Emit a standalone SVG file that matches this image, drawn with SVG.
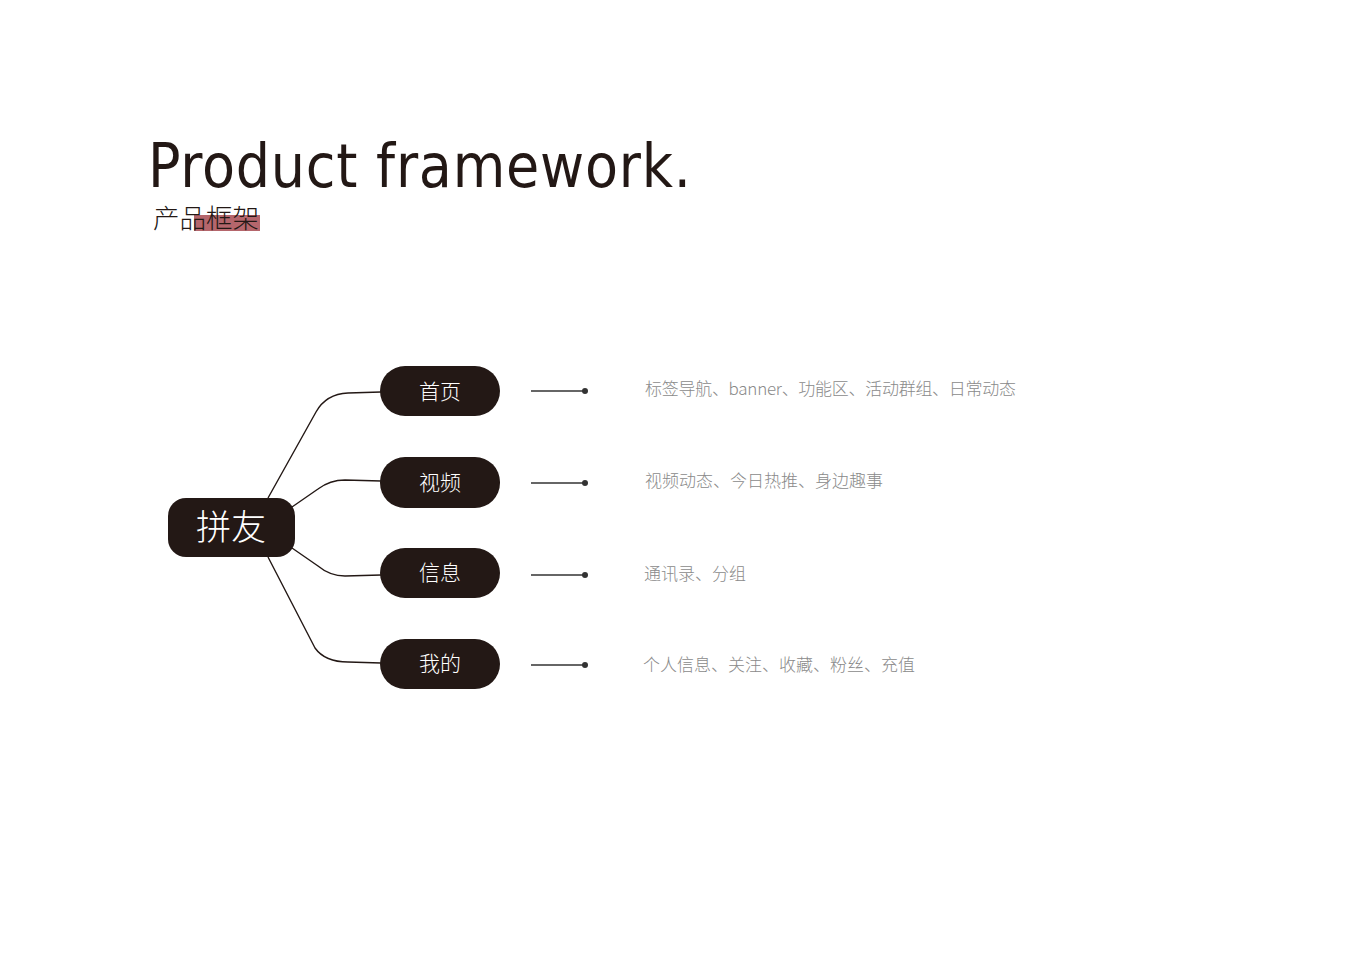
<svg xmlns="http://www.w3.org/2000/svg" width="1366" height="966" viewBox="0 0 1366 966">
<style>
.node rect{fill:#231815}
.root text{fill:#fff;font-family:"Noto Sans CJK SC",sans-serif;font-size:35px;font-weight:300;text-anchor:middle}
.child text{fill:#fff;font-family:"Noto Sans CJK SC",sans-serif;font-size:21px;font-weight:300;text-anchor:middle}
.conn path{fill:none;stroke:#231815;stroke-width:1.4}
.lead line{stroke:#333;stroke-width:1.3}
.lead circle{fill:#333}
.desc{fill:#8a8a8a;font-family:"Noto Sans CJK SC",sans-serif;font-size:17px;font-weight:300}
</style>
<rect width="1366" height="966" fill="#fff"/>
<g id="title">
<text x="148" y="187" font-family="'DejaVu Sans',sans-serif" font-stretch="condensed" font-size="60" fill="#231815" textLength="543" lengthAdjust="spacing">Product framework.</text>
<rect x="194" y="215" width="66" height="16" fill="#b5666c"/>
<text x="153" y="228" font-family="'Noto Sans CJK SC',sans-serif" font-size="26.5" font-weight="300" fill="#231815">产品框架</text>
</g>
<g id="connectors" class="conn">
<path d="M268,498 L316,412 Q326,394 348,393 L381,392"/>
<path d="M292,507 L318,489 Q330,480 345,480 L381,481"/>
<path d="M292,548 L318,566 Q330,576 345,576 L381,575"/>
<path d="M268,557 L315,648 Q325,662 348,662 L381,663"/>
</g>
<g id="root" class="node root">
<rect x="168" y="498" width="127" height="59" rx="18"/>
<text x="231" y="540">拼友</text>
</g>
<g id="n-home" class="node child">
<rect x="380" y="366" width="120" height="50" rx="25"/>
<text x="440" y="399">首页</text>
</g>
<g id="n-video" class="node child">
<rect x="380" y="457" width="120" height="51" rx="25"/>
<text x="440" y="490">视频</text>
</g>
<g id="n-msg" class="node child">
<rect x="380" y="548" width="120" height="50" rx="25"/>
<text x="440" y="580">信息</text>
</g>
<g id="n-me" class="node child">
<rect x="380" y="639" width="120" height="50" rx="25"/>
<text x="440" y="671">我的</text>
</g>
<g id="leads" class="lead">
<line x1="531" y1="391" x2="585" y2="391"/><circle cx="585" cy="391" r="3"/>
<line x1="531" y1="483" x2="585" y2="483"/><circle cx="585" cy="483" r="3"/>
<line x1="531" y1="575" x2="585" y2="575"/><circle cx="585" cy="575" r="3"/>
<line x1="531" y1="665" x2="585" y2="665"/><circle cx="585" cy="665" r="3"/>
</g>
<g id="descriptions">
<text class="desc" x="645" y="395" textLength="371" lengthAdjust="spacing">标签导航、banner、功能区、活动群组、日常动态</text>
<text class="desc" x="645" y="487">视频动态、今日热推、身边趣事</text>
<text class="desc" x="644" y="580">通讯录、分组</text>
<text class="desc" x="643" y="671">个人信息、关注、收藏、粉丝、充值</text>
</g>
</svg>
